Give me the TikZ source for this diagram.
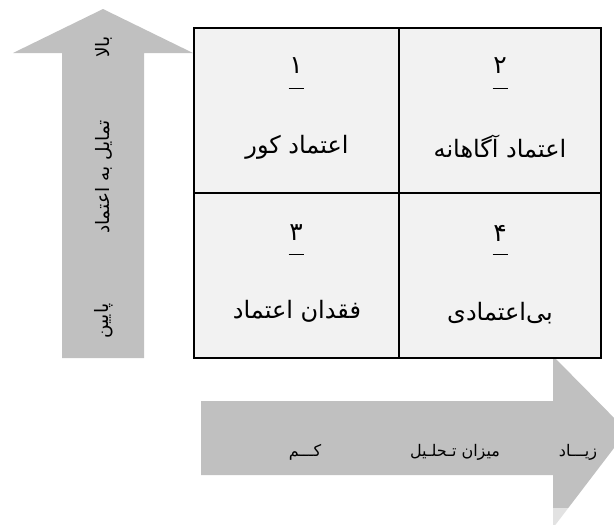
\documentclass[tikz,border=0pt]{standalone}
\usepackage{fontspec}
\newfontfamily\fa[Script=Arabic]{DejaVu Sans}
\TeXXeTstate=1
\definecolor{arrowgray}{HTML}{C0C0C0}
\definecolor{cellgray}{HTML}{F2F2F2}
\tikzset{
  arrowshape/.style={fill=arrowgray, draw=none},
  cellbox/.style={draw=black, line width=2.8pt, fill=cellgray, minimum width=205pt, minimum height=165pt, inner sep=0pt, anchor=center},
  numtext/.style={font=\fa\fontsize{25}{28}\selectfont, inner sep=0pt},
  celltext/.style={font=\fa\fontsize{24}{27}\selectfont, inner sep=0pt},
  vsidetext/.style={font=\fa\fontsize{18.5}{20}\selectfont, inner sep=0pt, rotate=90},
  hsidetext/.style={font=\fa\fontsize{16}{18}\selectfont, inner sep=0pt},
  uline/.style={line width=0.7pt},
}
\begin{document}
\begin{tikzpicture}[x=1pt,y=-1pt]
\useasboundingbox (0,0) rectangle (614,525);
\clip (0,0) rectangle (614,525);
% vertical arrow
\fill[arrowshape] (62,358) -- (62,53) -- (13,53) -- (103,9) -- (193,53) -- (144,53) -- (144,358) -- cycle;
% horizontal arrow
\fill[arrowshape] (201,401) -- (553,401) -- (553,356) -- (627,431) -- (553,528) -- (553,475) -- (201,475) -- cycle;
% faint band
\fill[white, opacity=0.55] (100,508) rectangle (612,525);
% cells
\node[cellbox, minimum width=205pt] (c1) at (296.5,110.5) {};
\node[cellbox, minimum width=202pt] (c2) at (500,110.5) {};
\node[cellbox, minimum width=205pt] (c3) at (296.5,275.5) {};
\node[cellbox, minimum width=202pt] (c4) at (500,275.5) {};
% numbers
\node[numtext] (n1) at (296,66) {\beginR ۱\endR};
\node[numtext] (n2) at (500,66) {\beginR ۲\endR};
\node[numtext] (n3) at (296,233) {\beginR ۳\endR};
\node[numtext] (n4) at (500,233) {\beginR ۴\endR};
\coordinate (u1) at (296,88);
\coordinate (u2) at (500,88);
\coordinate (u3) at (296,254);
\coordinate (u4) at (500,254);
\foreach \u in {u1,u2,u3,u4}{
  \draw[uline] ([xshift=-7.5pt]\u) -- ([xshift=7.5pt]\u);
}
% cell labels
\node[celltext] (t1) at (297,147) {\beginR اعتماد کور\endR};
\node[celltext] (t2) at (500,147) {\beginR اعتماد آگاهانه\endR};
\node[celltext] (t3) at (297,311) {\beginR فقدان اعتماد\endR};
\node[celltext] (t4) at (500,313) {\beginR بی‌اعتمادی\endR};
% vertical labels
\node[vsidetext] (vhigh) at (104,47) {\beginR بالا\endR};
\node[vsidetext] (vmid) at (104,177) {\beginR تمایل به اعتماد\endR};
\node[vsidetext] (vlow) at (104,321) {\beginR پایین\endR};
% horizontal labels
\node[hsidetext] (hhigh) at (578,452) {\beginR زیـــاد\endR};
\node[hsidetext] (hmid) at (455,452) {\beginR میزان تـحلـیل\endR};
\node[hsidetext] (hlow) at (305,452) {\beginR کـــم\endR};
\end{tikzpicture}
\end{document}
